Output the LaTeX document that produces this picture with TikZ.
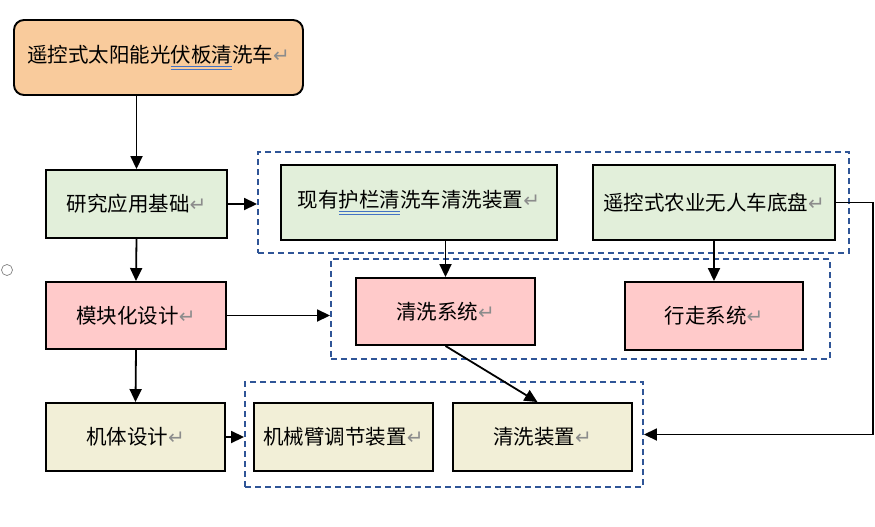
\documentclass[tikz,border=0pt]{standalone}
\usepackage{fontspec}
\usetikzlibrary{arrows.meta}
\newfontfamily\cjk{Noto Sans CJK SC}
\newfontfamily\djv{DejaVu Sans}
\definecolor{topfill}{HTML}{F9CB9C}
\definecolor{grnfill}{HTML}{E2EFDA}
\definecolor{pnkfill}{HTML}{FFCACA}
\definecolor{begfill}{HTML}{F2EFD7}
\definecolor{dblue}{HTML}{2F5597}
\definecolor{ulblue}{HTML}{4472C4}
\definecolor{markgray}{HTML}{8C8C8C}
\newsavebox\ulbox
\newcommand\wul[1]{\sbox\ulbox{#1}\makebox[0pt][l]{\color{ulblue}\rule[-4.4pt]{\wd\ulbox}{1.1pt}}\makebox[0pt][l]{\color{ulblue}\rule[-7pt]{\wd\ulbox}{1.1pt}}\usebox\ulbox}
\newcommand\parmark{{\color{markgray}\djv\fontsize{20}{22}\selectfont ↵}}
\begin{document}
\begin{tikzpicture}[x=1pt,y=-1pt,
  box/.style={draw=black, line width=1.9pt, inner sep=0pt, text=black,
    font=\cjk\fontsize{20.5}{23}\selectfont},
  dbox/.style={draw=dblue, dash pattern=on 6pt off 4pt, line width=1.9pt, inner sep=0pt},
  arr/.style={line width=1.8pt, -{Triangle[length=13pt,width=12pt]}}]
\useasboundingbox (0,0) rectangle (875,527);

% dashed groups
\node[dbox, minimum width=591, minimum height=101] (d1) at (553.5,202.5) {};
\node[dbox, minimum width=499, minimum height=100] (d2) at (580.5,309) {};
\node[dbox, minimum width=398, minimum height=105] (d3) at (444,434.5) {};

% boxes
\node[box, fill=topfill, rounded corners=10pt, minimum width=289, minimum height=75] (top) at (158.5,57.5) {遥控式太阳能光\wul{伏板清}洗车\parmark};
\node[box, fill=grnfill, minimum width=181, minimum height=68] (yj) at (136.5,204) {研究应用基础\parmark};
\node[box, fill=pnkfill, minimum width=180, minimum height=67] (mk) at (136,315.5) {模块化设计\parmark};
\node[box, fill=begfill, minimum width=179, minimum height=68] (jt) at (135.5,437) {机体设计\parmark};
\node[box, fill=grnfill, minimum width=276, minimum height=75] (xy) at (419,202.5) {现有\wul{护栏清}洗车清洗装置\parmark};
\node[box, fill=grnfill, minimum width=242, minimum height=75] (yk) at (714,202.5) {遥控式农业无人车底盘\parmark};
\node[box, fill=pnkfill, minimum width=179, minimum height=67] (qxxt) at (445.5,311.5) {清洗系统\parmark};
\node[box, fill=pnkfill, minimum width=178, minimum height=68] (xz) at (714,316) {行走系统\parmark};
\node[box, fill=begfill, minimum width=179, minimum height=68] (jx) at (343.5,437) {机械臂调节装置\parmark};
\node[box, fill=begfill, minimum width=179, minimum height=68] (qxzz) at (542.5,437) {清洗装置\parmark};

% small circle
\node[circle, draw=gray, line width=0.7pt, minimum size=11pt, inner sep=0pt] (dot) at (7,270) {};

% connectors
\coordinate (rc) at (873,0);
\draw[arr] (yj.north |- top.south) -- (yj.north);
\draw[arr] (yj.east) -- (yj.east -| d1.west);
\draw[arr] (yj.south) -- (mk.north);
\draw[arr] (mk.east) -- (mk.east -| d2.west);
\draw[arr] (mk.south) -- (jt.north);
\draw[arr] (jt.east) -- (jt.east -| d3.west);
\draw[arr] (qxxt.north |- xy.south) -- (qxxt.north);
\draw[arr] (xz.north |- yk.south) -- (xz.north);
\draw[arr] (qxxt.south) -- ([xshift=-5pt]qxzz.north);
\draw[arr] (yk.east) -- (yk.east -| rc) -- (d3.east -| rc) -- (d3.east);
\end{tikzpicture}
\end{document}
